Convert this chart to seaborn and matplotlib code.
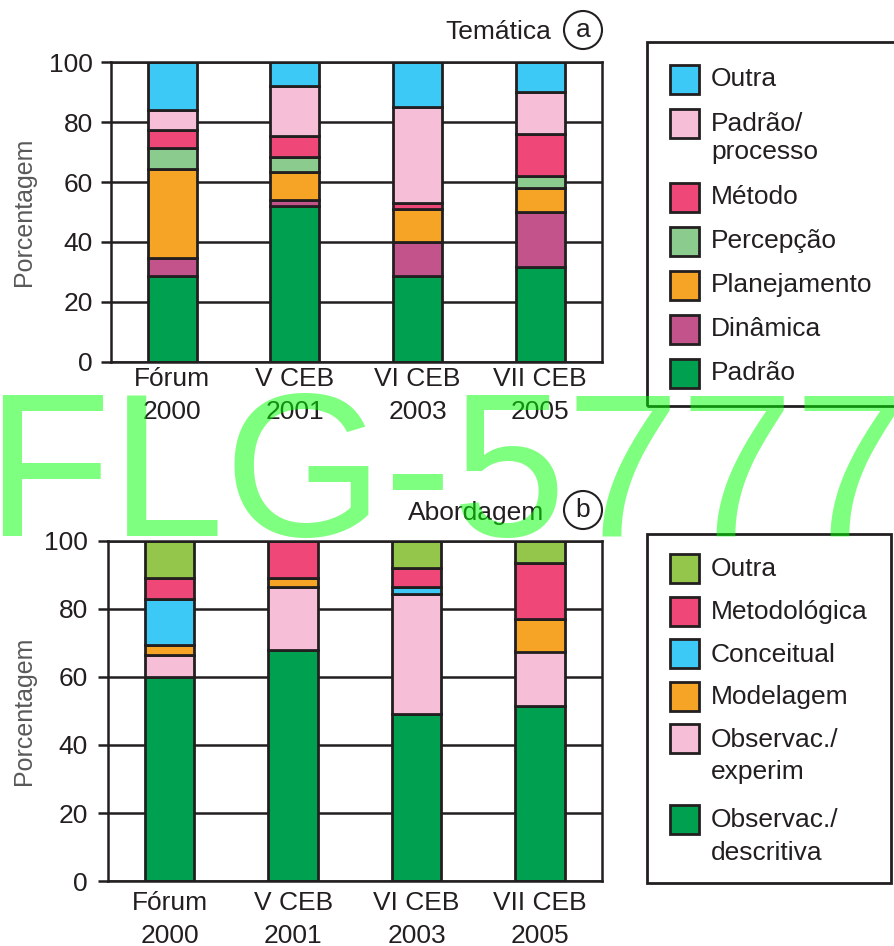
import numpy as np
import pandas as pd
import matplotlib
matplotlib.use("Agg")
import matplotlib.pyplot as plt
from matplotlib.patches import Rectangle, Ellipse
import seaborn as sns

# Events on the x axis
eventos = ["Fórum\n2000", "V CEB\n2001", "VI CEB\n2003", "VII CEB\n2005"]

# (a) Temática — series from the base of each stack to the top (%)
tematica_series = ["Padrão", "Dinâmica", "Planejamento", "Percepção",
                   "Método", "Padrão/processo", "Outra"]
tem_padrao = [28.5, 52.0, 28.5, 31.5]
tem_dinamica = [6.0, 2.0, 11.5, 18.5]
tem_planejamento = [30.0, 9.5, 11.0, 8.0]
tem_percepcao = [7.0, 5.0, 0.0, 4.0]
tem_metodo = [6.0, 7.0, 2.0, 14.0]
tem_padrao_processo = [6.5, 16.5, 32.0, 14.0]
tem_outra = [16.0, 8.0, 15.0, 10.0]
tematica_valores = [tem_padrao, tem_dinamica, tem_planejamento, tem_percepcao,
                    tem_metodo, tem_padrao_processo, tem_outra]
tematica_cores = ["#00A051", "#C3548B", "#F6A425", "#8BCB8E",
                  "#EF4778", "#F6BFD7", "#3DC9F6"]

# (b) Abordagem — series from the base of each stack to the top (%)
abordagem_series = ["Observac./descritiva", "Observac./experim", "Modelagem",
                    "Conceitual", "Metodológica", "Outra"]
abo_descritiva = [60.0, 68.0, 49.0, 51.5]
abo_experim = [6.5, 18.5, 35.5, 16.0]
abo_modelagem = [3.0, 2.5, 0.0, 9.5]
abo_conceitual = [13.5, 0.0, 2.0, 0.0]
abo_metodologica = [6.0, 11.0, 5.5, 16.5]
abo_outra = [11.0, 0.0, 8.0, 6.5]
abordagem_valores = [abo_descritiva, abo_experim, abo_modelagem,
                     abo_conceitual, abo_metodologica, abo_outra]
abordagem_cores = ["#00A051", "#F6BFD7", "#F6A425", "#3DC9F6",
                   "#EF4778", "#93C64A"]

W, H = 894, 946
INK = "#231F20"
FS = 19

sns.set_style("white")
plt.rcParams["font.family"] = ["Liberation Sans", "DejaVu Sans"]
plt.rcParams["text.color"] = INK


def fig_xy(x, y):
    return x / W, 1 - y / H


def empilhar(ax, series, valores, cores):
    linhas = [(ev, s, v) for s, vals in zip(series, valores)
              for ev, v in zip(eventos, vals)]
    df = pd.DataFrame(linhas, columns=["evento", "serie", "valor"])
    base = np.zeros(len(eventos))
    for s, c in zip(series, cores):
        sub = df[df["serie"] == s]
        sns.barplot(data=sub, x="evento", y="valor", order=eventos,
                    bottom=base, color=c, saturation=1, width=0.4,
                    edgecolor=INK, linewidth=2, errorbar=None, ax=ax)
        base = base + sub["valor"].to_numpy()


def estilo(ax, xpad, ypad, label_x):
    ax.set_xlim(-0.5, len(eventos) - 0.5)
    ax.set_ylim(0, 100)
    ax.set_yticks(range(0, 101, 20))
    ax.set_xticks(range(len(eventos)))
    ax.set_xticklabels(eventos)
    ax.set_xticks(np.arange(-0.5, len(eventos)), minor=True)
    ax.tick_params(axis="x", which="major", length=0, pad=xpad,
                   labelsize=FS, labelcolor=INK)
    ax.tick_params(axis="x", which="minor", length=7.5, width=1.8,
                   color=INK, direction="out")
    ax.tick_params(axis="y", length=7.5, width=1.8, pad=ypad, labelsize=FS,
                   color=INK, labelcolor=INK, direction="out", left=True)
    for lbl in ax.get_xticklabels():
        lbl.set_linespacing(1.47)
    ax.yaxis.grid(True, color=INK, lw=1.8)
    ax.xaxis.grid(False)
    ax.set_axisbelow(True)
    for sp in ax.spines.values():
        sp.set_visible(True)
        sp.set_color(INK)
        sp.set_linewidth(1.8)
    ax.set_xlabel("")
    ax.set_ylabel("Porcentagem", fontsize=18, color="#595959")
    ax.yaxis.set_label_coords(label_x, 0.5)


def titulo(fig, texto, letra, x_dir, y, cx, cy):
    fig.text(*fig_xy(x_dir, y), texto, ha="right", va="center",
             fontsize=FS, color=INK)
    r = 19
    fig.add_artist(Ellipse(fig_xy(cx, cy), 2 * r / W, 2 * r / H,
                           transform=fig.transFigure, fill=False,
                           ec=INK, lw=1.5))
    fig.text(*fig_xy(cx, cy), letra, ha="center", va="center",
             fontsize=FS, color=INK)


def legenda(fig, series, cores, caixa, y0, passo, extra, dy_base, entre_linhas):
    x0, y_top, x1, y_bot = caixa
    fig.add_artist(Rectangle(fig_xy(x0, y_bot), (x1 - x0) / W,
                             (y_bot - y_top) / H, transform=fig.transFigure,
                             fill=False, ec=INK, lw=2))
    y = y0
    for s, c in reversed(list(zip(series, cores))):
        partes = s.replace("/", "/\n").split("\n")
        fig.add_artist(Rectangle(fig_xy(670, y + 14.5), 29 / W, 29 / H,
                                 transform=fig.transFigure, fc=c,
                                 ec=INK, lw=2))
        for i, parte in enumerate(partes):
            fig.text(*fig_xy(711, y + dy_base + i * entre_linhas), parte,
                     ha="left", va="baseline", fontsize=FS, color=INK)
        y += passo + extra * (len(partes) - 1)


fig = plt.figure(figsize=(W / 100, H / 100), dpi=100)

ax_a = fig.add_axes([110.7 / W, 1 - 361.7 / H, 490.9 / W, 299.4 / H])
empilhar(ax_a, tematica_series, tematica_valores, tematica_cores)
estilo(ax_a, xpad=4, ypad=5.5, label_x=-0.152)

ax_b = fig.add_axes([108 / W, 1 - 881 / H, 493.6 / W, 340 / H])
empilhar(ax_b, abordagem_series, abordagem_valores, abordagem_cores)
estilo(ax_b, xpad=7, ypad=7, label_x=-0.146)

titulo(fig, "Temática", "a", 551, 32, 583, 30)
titulo(fig, "Abordagem", "b", 544, 513, 583, 510)

legenda(fig, tematica_series, tematica_cores, (647, 42, 900, 406),
        y0=80, passo=44, extra=29.7, dy_base=6.5, entre_linhas=28.3)
legenda(fig, abordagem_series, abordagem_cores, (647, 534, 891, 883),
        y0=568.5, passo=42.5, extra=38, dy_base=8, entre_linhas=33)

# Course code stamped across the sheet
fig.text(-15 / W, 1 - 536 / H, "FLG-5777", fontsize=147.6, color="#00FF00",
         alpha=0.5, ha="left", va="baseline", zorder=100)

fig.savefig("out.png", dpi=100)
